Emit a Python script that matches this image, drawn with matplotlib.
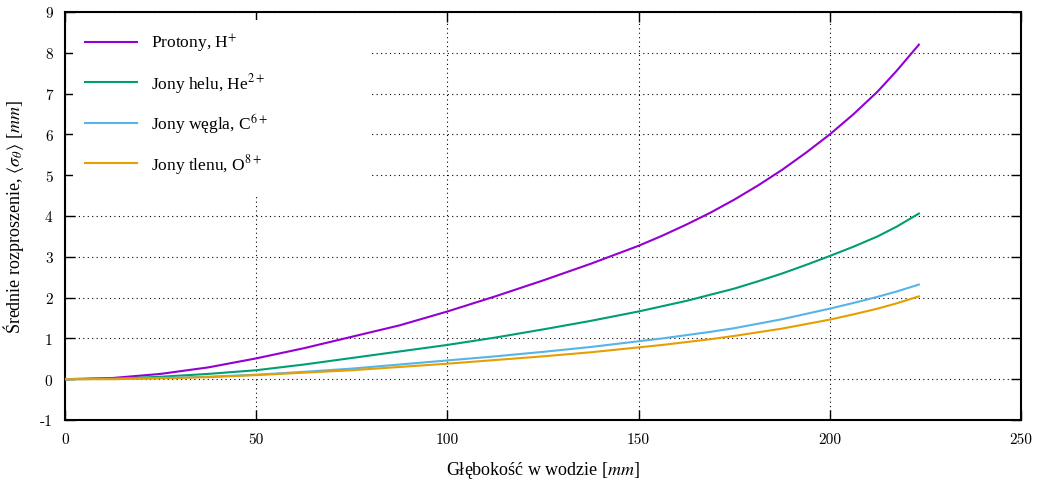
import matplotlib
matplotlib.use("Agg")
from matplotlib import pyplot as plt
from matplotlib.patches import Rectangle

plt.rcParams['font.family'] = ['Liberation Serif']
plt.rcParams['mathtext.fontset'] = 'stix'
plt.rcParams['axes.unicode_minus'] = False

# glebokosc [mm]
depth = [0, 12.5, 25, 37.5, 50, 62.5, 75, 87.5, 100, 112.5, 125, 137.5,
         150, 156.25, 162.5, 168.75, 175, 181.25, 187.5, 193.75, 200,
         206.25, 212.5, 217.5, 223.3]
protony = [0, 0.03, 0.13, 0.29, 0.51, 0.76, 1.04, 1.32, 1.66, 2.03, 2.42, 2.83,
           3.27, 3.52, 3.79, 4.08, 4.40, 4.75, 5.13, 5.55, 6.0,
           6.5, 7.05, 7.56, 8.2]
hel = [0, 0.01, 0.06, 0.13, 0.22, 0.36, 0.52, 0.68, 0.84, 1.02, 1.22, 1.43,
       1.66, 1.79, 1.92, 2.07, 2.22, 2.40, 2.59, 2.80, 3.02,
       3.25, 3.5, 3.74, 4.06]
wegiel = [0, 0.01, 0.03, 0.06, 0.11, 0.18, 0.26, 0.36, 0.46, 0.56, 0.67, 0.79,
          0.93, 1.0, 1.08, 1.16, 1.25, 1.36, 1.47, 1.60, 1.73,
          1.87, 2.02, 2.15, 2.32]
tlen = [0, 0.0, 0.02, 0.05, 0.1, 0.16, 0.22, 0.30, 0.38, 0.47, 0.56, 0.66,
        0.78, 0.84, 0.91, 0.98, 1.06, 1.15, 1.24, 1.35, 1.46,
        1.59, 1.73, 1.86, 2.03]

labels = ["Protony, H$^{+}$", "Jony helu, He$^{2+}$",
          "Jony węgla, C$^{6+}$", "Jony tlenu, O$^{8+}$"]
colors = ["#9400D3", "#009E73", "#56B4E9", "#E69F00"]

fig = plt.figure(figsize=(10.41, 4.85), dpi=100)
ax = fig.add_axes([65/1041, 1 - 421/485, 956/1041, 408/485])

for ys, lab, c in zip([protony, hel, wegiel, tlen], labels, colors):
    ax.plot(depth, ys, color=c, linewidth=1.5, label=lab, zorder=3)

ax.set_xlim(0, 250)
ax.set_ylim(-1, 9)
ax.set_xticks(range(0, 251, 50))
ax.set_yticks(range(-1, 10))
ax.set_axisbelow(True)
ax.grid(True, color="black", linestyle=(0, (1, 3)), linewidth=0.8)
ax.tick_params(direction="in", length=7, width=1, top=True, right=True,
               labelsize=11, pad=9)
for lbl in ax.get_xticklabels() + ax.get_yticklabels():
    lbl.set_fontfamily('cmr10')
for s in ax.spines.values():
    s.set_linewidth(1.5)

# biale tlo pod legenda (gnuplot chowa tam siatke)
ax.add_patch(Rectangle((8/956, 1 - 182/408), (305 - 8)/956, (182 - 8)/408,
                       transform=ax.transAxes, facecolor="white",
                       edgecolor="none", zorder=0.7))

ax.legend(loc="upper left", frameon=False, fontsize=12.5, handlelength=3.0,
          handletextpad=0.75, labelspacing=0.95,
          bbox_to_anchor=(0.005, 0.99))

ax.set_xlabel("Głębokość w wodzie [$mm$]", fontsize=13, labelpad=9)
ax.set_ylabel("Średnie rozproszenie, $\\langle\\sigma_\\theta\\rangle$ [$mm$]",
              fontsize=13)
ax.yaxis.set_label_coords(-39/956, 0.5)

fig.savefig("out.png", dpi=100)
